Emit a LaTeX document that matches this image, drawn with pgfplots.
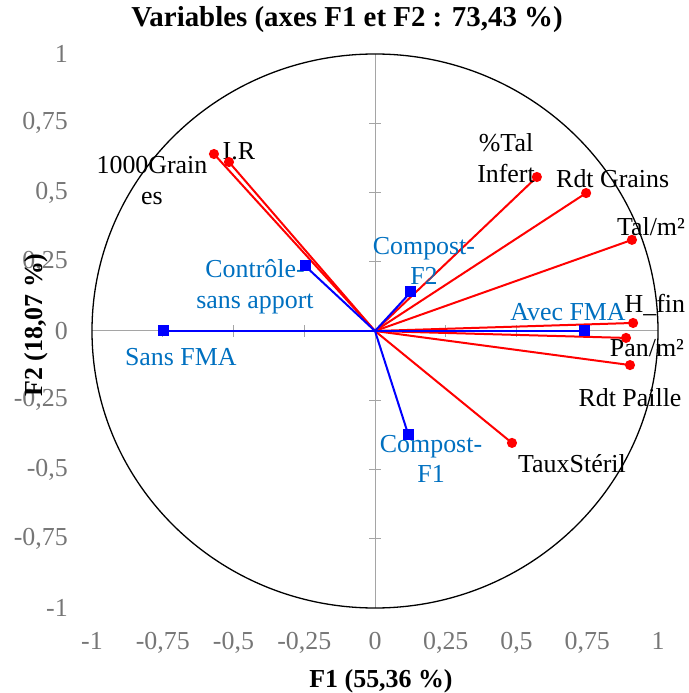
\documentclass[border=0pt]{standalone}
\usepackage{fontspec}
\setmainfont{Liberation Serif}
\usepackage{pgfplots}
\pgfplotsset{compat=1.18}

\definecolor{lblblue}{RGB}{0,112,192}
\definecolor{axgray}{RGB}{165,165,165}
\definecolor{tickgray}{RGB}{118,118,118}

\newcommand{\lblfont}{\fontsize{26}{31}\selectfont}

\begin{document}
\begin{tikzpicture}
\path[use as bounding box] (-92bp,-85bp) rectangle (597bp,608bp);
\begin{axis}[
  at={(0,0)}, anchor=south west,
  scale only axis, width=566bp, height=554bp,
  xmin=-1, xmax=1, ymin=-1, ymax=1,
  clip=false,
  axis line style={draw=none},
  major tick style={draw=none},
  xtick={-1,-0.75,-0.5,-0.25,0,0.25,0.5,0.75,1},
  ytick={-1,-0.75,-0.5,-0.25,0,0.25,0.5,0.75,1},
  /pgf/number format/assume math mode=true,
  /pgf/number format/use comma,
  tick label style={font=\lblfont, text=tickgray, inner sep=0pt},
  xticklabel style={anchor=base, yshift=-41bp},
  yticklabel style={anchor=east, xshift=-24bp},
  title={Variables (axes F1 et F2 : 73,43 \%)},
  title style={font=\fontsize{29}{34}\selectfont\bfseries,
    at={(axis description cs:0.4505,1.0397)}, anchor=base},
  xlabel={F1 (55,36 \%)},
  xlabel style={font=\lblfont\bfseries,
    at={(axis description cs:0.5106,-0.1426)}, anchor=base},
  ylabel={F2 (18,07 \%)},
  ylabel style={font=\lblfont\bfseries,
    at={(axis description cs:-0.0883,0.5108)}, anchor=base},
  red vec/.style={red, line width=2bp, mark=*, mark size=4bp, mark indices={2}},
  blue vec/.style={blue, line width=2bp, mark=square*, mark size=4.5bp, mark indices={2}},
]
% centre lines and their ticks
\draw[axgray, line width=1bp] (axis cs:-1,0) -- (axis cs:1,0);
\draw[axgray, line width=1bp] (axis cs:0,-1) -- (axis cs:0,1);
\pgfplotsinvokeforeach{-0.75,-0.5,-0.25,0.25,0.5,0.75}{
  \draw[axgray, line width=1bp] ([yshift=-6bp]axis cs:#1,0) -- ([yshift=6bp]axis cs:#1,0);
  \draw[axgray, line width=1bp] ([xshift=-6bp]axis cs:0,#1) -- ([xshift=6bp]axis cs:0,#1);
}
% correlation circle
\draw[black, line width=1.3bp] (axis cs:0,0) ellipse [x radius=1, y radius=1];

% variables
\addplot[red vec] coordinates {(0,0) (-0.569,0.639)}; % 1000Grains
\addplot[red vec] coordinates {(0,0) (-0.516,0.610)}; % I.R
\addplot[red vec] coordinates {(0,0) (0.572,0.556)};  % %Tal Infert
\addplot[red vec] coordinates {(0,0) (0.746,0.498)};  % Rdt Grains
\addplot[red vec] coordinates {(0,0) (0.908,0.329)};  % Tal/m2
\addplot[red vec] coordinates {(0,0) (0.912,0.029)};  % H_fin
\addplot[red vec] coordinates {(0,0) (0.887,-0.025)}; % Pan/m2
\addplot[red vec] coordinates {(0,0) (0.901,-0.123)}; % Rdt Paille
\addplot[red vec] coordinates {(0,0) (0.484,-0.404)}; % TauxSteril

% supplementary modalities
\addplot[blue vec] coordinates {(0,0) (-0.247,0.235)}; % Controle
\addplot[blue vec] coordinates {(0,0) (-0.749,0)};     % Sans FMA
\addplot[blue vec] coordinates {(0,0) (0.127,0.141)};  % Compost-F2
\addplot[blue vec] coordinates {(0,0) (0.742,0)};      % Avec FMA
\addplot[blue vec] coordinates {(0,0) (0.117,-0.372)}; % Compost-F1

% labels
\begin{scope}[every node/.style={font=\lblfont, align=center, inner sep=0pt}]
\node at (axis cs:-0.788,0.542) {1000Grain\\es};
\node at (axis cs:-0.481,0.650) {I.R};
\node at (axis cs:0.463,0.625) {\%Tal\\Infert};
\node at (axis cs:0.840,0.549) {Rdt Grains};
\node at (axis cs:0.975,0.375) {Tal/m²};
\node at (axis cs:0.989,0.094) {H\_fin};
\node at (axis cs:0.961,-0.061) {Pan/m²};
\node at (axis cs:0.901,-0.242) {Rdt Paille};
\node at (axis cs:0.696,-0.477) {TauxStéril};
\node[text=lblblue] at (axis cs:-0.424,0.159) {Contrôle-\\sans apport};
\node[text=lblblue] at (axis cs:-0.686,-0.094) {Sans FMA};
\node[text=lblblue] at (axis cs:0.173,0.253) {Compost-\\F2};
\node[text=lblblue] at (axis cs:0.682,0.069) {Avec FMA};
\node[text=lblblue] at (axis cs:0.198,-0.462) {Compost-\\F1};
\end{scope}
\end{axis}
\end{tikzpicture}
\end{document}
